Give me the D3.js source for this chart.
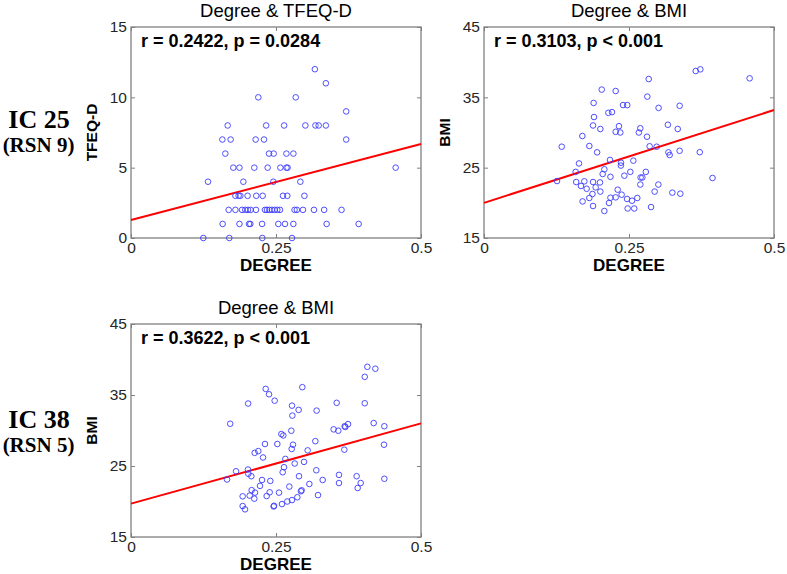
<!DOCTYPE html>
<html>
<head>
<meta charset="utf-8">
<script src="https://cdn.jsdelivr.net/npm/d3@7"></script>
<style>
  html, body { margin: 0; padding: 0; background: #fff; }
  svg { display: block; }
</style>
</head>
<body>
<script>
// ---------------- DATA ----------------
const xTicks = [0, 0.25, 0.5];
const tfeqTicks = [0, 5, 10, 15];
const bmiTicks = [15, 25, 35, 45];

// Panel A: IC 25, Degree vs TFEQ-D
const ic25TfeqDegree = [
  0.317,
  0.336,
  0.2195, 0.284,
  0.371,
  0.1667, 0.233, 0.264, 0.3006, 0.318, 0.3235, 0.336,
  0.1575, 0.1718, 0.2149, 0.2293, 0.371,
  0.1626, 0.238, 0.246, 0.268, 0.28,
  0.1764, 0.187, 0.2126, 0.2356, 0.2575, 0.268, 0.270, 0.4563,
  0.1328, 0.1937, 0.2454, 0.292,
  0.180, 0.1856, 0.1885, 0.201, 0.216, 0.227, 0.262, 0.2695, 0.299,
  0.1684, 0.180, 0.1914, 0.197, 0.2017, 0.2063, 0.2155, 0.231, 0.2345, 0.2385, 0.243, 0.2477, 0.2523, 0.2569, 0.282, 0.286, 0.2965, 0.3155, 0.333, 0.363,
  0.158, 0.187, 0.2035, 0.2057, 0.226, 0.254, 0.2655, 0.2799, 0.3373, 0.3925,
  0.1247, 0.1695, 0.2264, 0.2776
];
const ic25TfeqScore = [
  12,
  11,
  10, 10,
  9,
  8, 8, 8, 8, 8, 8, 8,
  7, 7, 7, 7, 7,
  6, 6, 6, 6, 6,
  5, 5, 5, 5, 5, 5, 5, 5,
  4, 4, 4, 4,
  3, 3, 3, 3, 3, 3, 3, 3, 3,
  2, 2, 2, 2, 2, 2, 2, 2, 2, 2, 2, 2, 2, 2, 2, 2, 2, 2, 2, 2,
  1, 1, 1, 1, 1, 1, 1, 1, 1, 1,
  0, 0, 0, 0
];

// Panel B: IC 25, Degree vs BMI
const ic25BmiDegree = [
  0.365, 0.373, 0.458, 0.284, 0.203, 0.227, 0.2816, 0.189, 0.2397, 0.247,
  0.301, 0.3373, 0.2144, 0.2207, 0.1897, 0.188, 0.2006, 0.2327, 0.227, 0.235,
  0.2695, 0.267, 0.317, 0.334, 0.1696, 0.281, 0.134, 0.1816, 0.2856, 0.2977,
  0.195, 0.318, 0.3201, 0.3373, 0.372, 0.2172, 0.2575, 0.1638, 0.2362, 0.236,
  0.2075, 0.2046, 0.158, 0.2523, 0.279, 0.218, 0.242, 0.270, 0.273, 0.394,
  0.1259, 0.159, 0.173, 0.188, 0.2, 0.2695, 0.3006, 0.1672, 0.177, 0.1925,
  0.2305, 0.2006, 0.2942, 0.3247, 0.3385, 0.2373, 0.187, 0.227, 0.218, 0.1816,
  0.2466, 0.2643, 0.2552, 0.170, 0.2155, 0.188, 0.288, 0.2477, 0.259, 0.2075
];
const ic25BmiValue = [
  38.74, 38.98, 37.7, 37.6, 36.1, 35.9, 35.1, 34.2, 33.9, 33.9,
  33.5, 33.8, 32.8, 32.9, 32.2, 31.0, 30.5, 30.9, 30.1, 30.0,
  30.6, 30.0, 31.1, 30.5, 29.5, 29.4, 27.98, 28.08, 28.04, 27.98,
  27.18, 27.18, 26.8, 27.4, 27.2, 26.1, 26.0, 25.6, 25.7, 25.3,
  24.77, 24.1, 24.4, 24.4, 24.4, 23.7, 23.86, 23.6, 23.6, 23.53,
  23.1, 22.96, 23.06, 22.96, 22.9, 22.6, 22.6, 22.4, 22.0, 22.2,
  21.87, 21.6, 21.6, 21.45, 21.3, 21.16, 21.26, 20.78, 20.73, 20.69,
  20.55, 20.69, 20.3, 20.2, 19.98, 19.55, 19.4, 19.2, 19.2, 18.84
];

// Panel C: IC 38, Degree vs BMI
const ic38BmiDegree = [
  0.4075, 0.4213, 0.403, 0.2322, 0.2954, 0.238, 0.202, 0.2477, 0.3546, 0.403,
  0.2776, 0.289, 0.32, 0.2782, 0.171, 0.4184, 0.3742, 0.3684, 0.3695, 0.4368,
  0.3494, 0.3574, 0.2764, 0.2592, 0.2626, 0.3178, 0.231, 0.2523, 0.2793, 0.4362,
  0.277, 0.3046, 0.3678, 0.2195, 0.2132, 0.2276, 0.2661, 0.2822, 0.2983, 0.2638,
  0.2615, 0.1811, 0.2017, 0.2023, 0.2075, 0.3195, 0.3586, 0.389, 0.2897, 0.1655,
  0.2259, 0.2402, 0.3305, 0.4368, 0.3586, 0.396, 0.3075, 0.3908, 0.2224, 0.273,
  0.208, 0.2138, 0.2942, 0.293, 0.2391, 0.2552, 0.1925, 0.2046, 0.2339, 0.3224,
  0.2126, 0.2868, 0.2776, 0.2695, 0.2603, 0.2466, 0.246, 0.1925, 0.1966
];
const ic38BmiValue = [
  38.97, 38.7, 37.56, 35.86, 36.1, 35.1, 33.8, 34.2, 33.9, 33.84,
  33.5, 32.9, 32.8, 32.1, 30.95, 31.05, 30.9, 30.6, 30.5, 30.6,
  30.16, 29.97, 29.97, 29.5, 29.3, 28.5, 28.1, 28.1, 28.0, 28.0,
  27.4, 27.2, 27.3, 27.1, 26.85, 26.2, 26.0, 25.35, 25.58, 24.83,
  24.12, 24.26, 24.5, 23.9, 23.56, 24.4, 23.75, 23.56, 23.56, 23.1,
  23.03, 22.9, 23.03, 23.2, 22.6, 22.6, 22.47, 21.9, 22.2, 22.1,
  21.6, 21.25, 21.58, 21.44, 21.3, 21.25, 20.73, 20.83, 20.77, 20.9,
  20.4, 20.6, 20.2, 20.0, 19.64, 19.4, 19.3, 19.36, 18.9
];

// Fitted regression lines [intercept, slope]
const ic25TfeqFit = [1.28, 10.8];
const ic25BmiFit = [20.0, 26.4];
const ic38BmiFit = [19.7, 22.6];

const panelTitles = ["Degree & TFEQ-D", "Degree & BMI", "Degree & BMI"];
const statLabels = ["r = 0.2422, p = 0.0284", "r = 0.3103, p < 0.001", "r = 0.3622, p < 0.001"];
const yLabels = ["TFEQ-D", "BMI", "BMI"];
const xLabel = "DEGREE";
const rowLabels = ["IC 25", "IC 38"];
const rowSubLabels = ["(RSN 9)", "(RSN 5)"];

// ---------------- DRAW ----------------
const W = 787, H = 574;
const svg = d3.select("body").append("svg").attr("width", W).attr("height", H);

const panels = [
  { box: [131, 421, 27, 238], yDom: [0, 15], yTicks: tfeqTicks, xs: ic25TfeqDegree, ys: ic25TfeqScore, fit: ic25TfeqFit },
  { box: [484, 774, 27, 238], yDom: [15, 45], yTicks: bmiTicks, xs: ic25BmiDegree, ys: ic25BmiValue, fit: ic25BmiFit },
  { box: [131, 421, 324, 537], yDom: [15, 45], yTicks: bmiTicks, xs: ic38BmiDegree, ys: ic38BmiValue, fit: ic38BmiFit }
];

const axisColor = "#808080";
const sans = "Arial, 'Liberation Sans', Helvetica, sans-serif";
const serif = "'Times New Roman', 'Liberation Serif', serif";

panels.forEach((p, i) => {
  const [l, r, t, b] = p.box;
  const x = d3.scaleLinear().domain([0, 0.5]).range([l, r]);
  const y = d3.scaleLinear().domain(p.yDom).range([b, t]);
  const g = svg.append("g");

  // box
  g.append("rect").attr("x", l).attr("y", t).attr("width", r - l).attr("height", b - t)
    .attr("fill", "#fff").attr("stroke", axisColor).attr("stroke-width", 1.3);

  // axes (inward ticks, all four sides)
  const fmtX = d => d === 0 ? "0" : (d === 0.5 ? "0.5" : "0.25");
  const bottomAxis = g.append("g").attr("transform", `translate(0,${b})`)
    .call(d3.axisBottom(x).tickValues(xTicks).tickSizeInner(-4).tickSizeOuter(0).tickPadding(4).tickFormat(fmtX));
  const topAxis = g.append("g").attr("transform", `translate(0,${t})`)
    .call(d3.axisTop(x).tickValues(xTicks).tickSizeInner(-4).tickSizeOuter(0).tickFormat(""));
  const leftAxis = g.append("g").attr("transform", `translate(${l},0)`)
    .call(d3.axisLeft(y).tickValues(p.yTicks).tickSizeInner(-4).tickSizeOuter(0).tickPadding(4).tickFormat(d3.format("d")));
  const rightAxis = g.append("g").attr("transform", `translate(${r},0)`)
    .call(d3.axisRight(y).tickValues(p.yTicks).tickSizeInner(-4).tickSizeOuter(0).tickFormat(""));
  [bottomAxis, topAxis, leftAxis, rightAxis].forEach(a => {
    a.select(".domain").remove();
    a.selectAll("line").attr("stroke", axisColor);
    a.selectAll("text").attr("fill", "#262626").style("font-family", sans).style("font-size", "15.5px");
  });

  // regression line
  const f = v => p.fit[0] + p.fit[1] * v;
  g.append("line")
    .attr("x1", x(0)).attr("y1", y(f(0)))
    .attr("x2", x(0.5)).attr("y2", y(f(0.5)))
    .attr("stroke", "#ff0000").attr("stroke-width", 2);

  // points
  g.append("g").selectAll("circle").data(p.xs.map((v, k) => [v, p.ys[k]])).join("circle")
    .attr("cx", d => x(d[0])).attr("cy", d => y(d[1])).attr("r", 2.8)
    .attr("fill", "none").attr("stroke", "#3b3bff").attr("stroke-width", 0.9);

  // title
  g.append("text").attr("x", (l + r) / 2).attr("y", t - 10).attr("text-anchor", "middle")
    .style("font-family", sans).style("font-size", "18.5px").attr("fill", "#000")
    .text(panelTitles[i]);

  // stats label
  g.append("text").attr("x", l + 10).attr("y", t + 20)
    .style("font-family", sans).style("font-size", "18px").style("font-weight", "bold").attr("fill", "#000")
    .text(statLabels[i]);

  // x label
  g.append("text").attr("x", (l + r) / 2).attr("y", b + 33.3).attr("text-anchor", "middle")
    .style("font-family", sans).style("font-size", "17px").style("font-weight", "bold").attr("fill", "#000")
    .text(xLabel);

  // y label
  g.append("text").attr("transform", `translate(${l - 34},${(t + b) / 2}) rotate(-90)`)
    .attr("text-anchor", "middle")
    .style("font-family", sans).style("font-size", "15.5px").style("font-weight", "bold").attr("fill", "#000")
    .text(yLabels[i]);
});

// row labels
const rowY = [128, 428];
rowLabels.forEach((lab, i) => {
  svg.append("text").attr("x", 39).attr("y", rowY[i]).attr("text-anchor", "middle")
    .style("font-family", serif).style("font-size", "26px").style("font-weight", "bold").attr("fill", "#000")
    .text(lab);
  svg.append("text").attr("x", 38.5).attr("y", rowY[i] + 24).attr("text-anchor", "middle")
    .style("font-family", serif).style("font-size", "21px").style("font-weight", "bold").attr("fill", "#000")
    .text(rowSubLabels[i]);
});
</script>
</body>
</html>
